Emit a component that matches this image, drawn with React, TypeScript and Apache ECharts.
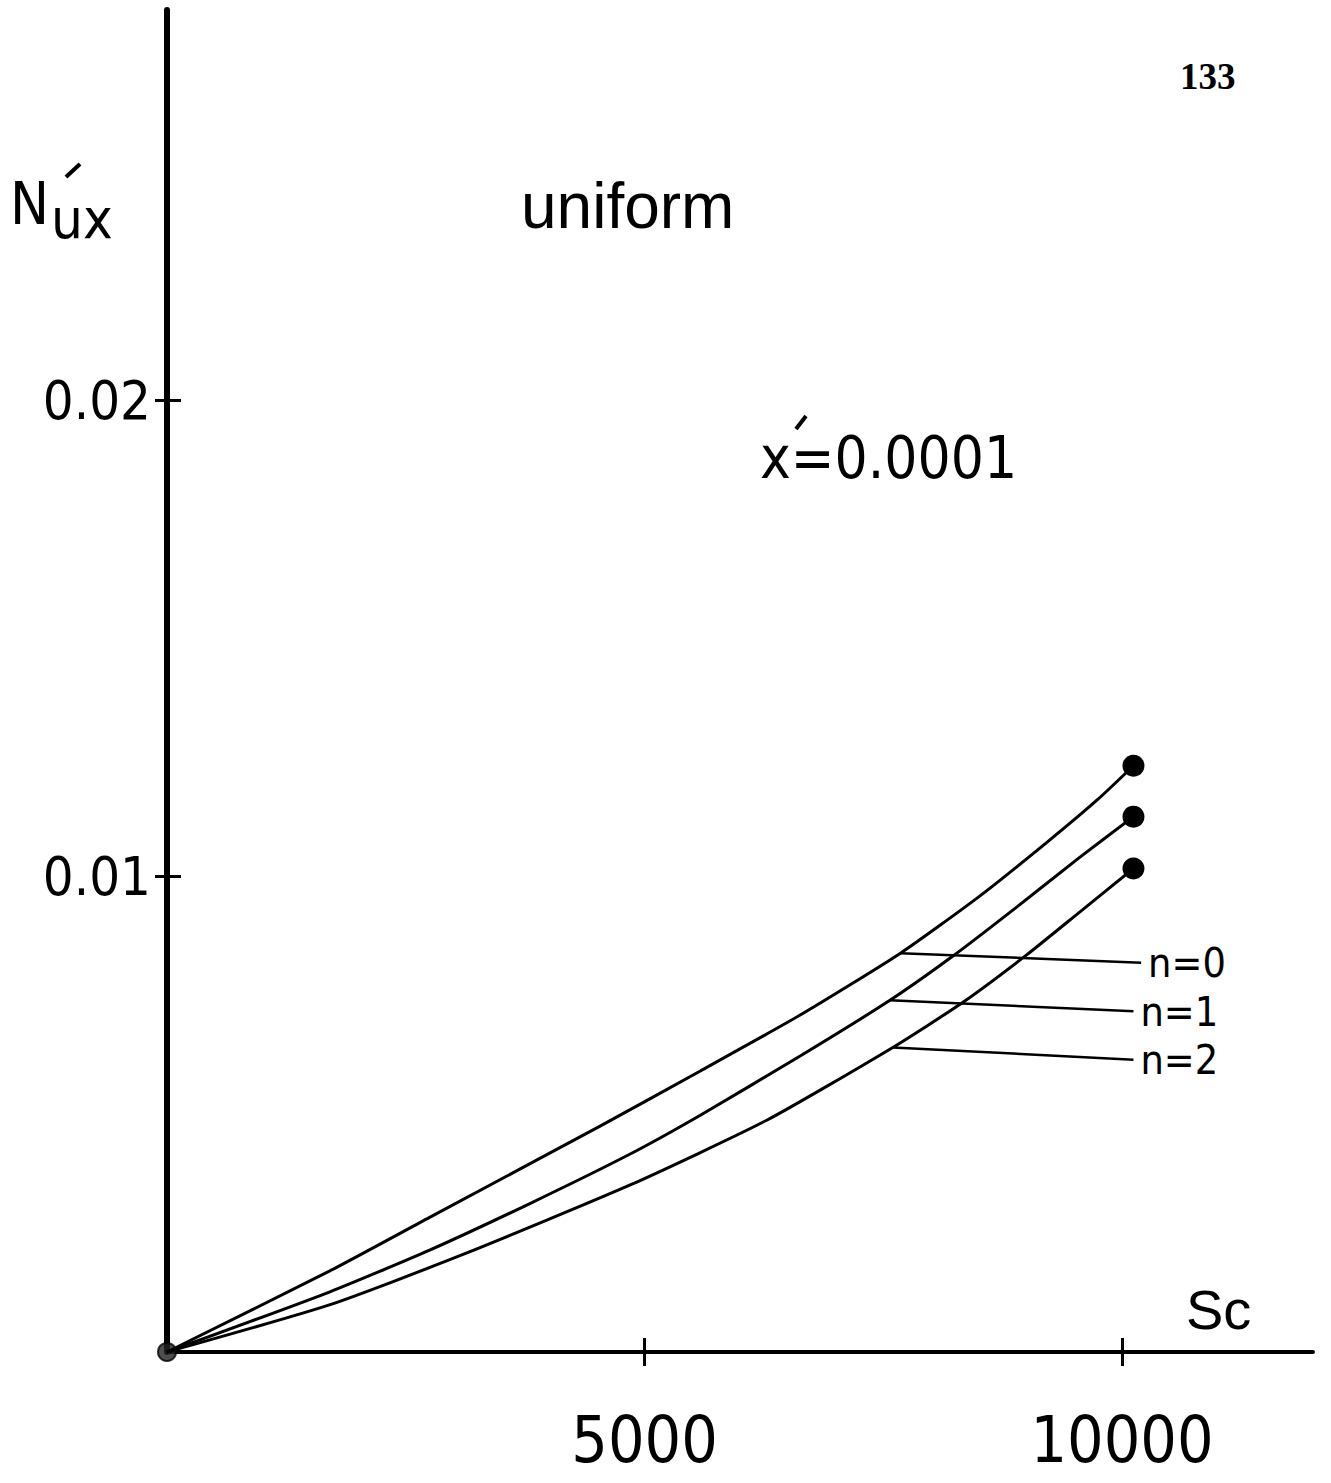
import React, { useEffect, useRef } from "react";
import * as echarts from "echarts";

// Curve readings (Sc, Nu'x) for each n
const n0Sc = [0, 1700, 2750, 4530, 5580, 6630, 7680, 8510, 9220, 9740, 10120];
const n0Nu = [0, 0.0017, 0.00283, 0.00474, 0.0059, 0.00708, 0.00838, 0.00958, 0.01072, 0.0116, 0.01232];
const n1Sc = [0, 1700, 2750, 3800, 4850, 5580, 6630, 7570, 8230, 8860, 9560, 10120];
const n1Nu = [0, 0.00126, 0.00214, 0.00312, 0.00416, 0.00497, 0.00622, 0.00739, 0.00832, 0.00929, 0.0104, 0.01125];
const n2Sc = [0, 1700, 3100, 4850, 6280, 7600, 8335, 9005, 9560, 10120];
const n2Nu = [0, 0.00099, 0.00205, 0.00351, 0.00487, 0.0064, 0.00735, 0.00835, 0.00925, 0.01016];

const seriesNames = ["n=0", "n=1", "n=2"];
const leaderStart = [
  [7680, 0.00838],
  [7570, 0.00739],
  [7600, 0.0064],
];
const leaderEnd = [
  [10200, 0.00818],
  [10120, 0.00716],
  [10120, 0.00614],
];
const xTicks = [5000, 10000];
const yTicks = [0.01, 0.02];

const COND = "'DejaVu Sans Condensed', 'Liberation Sans Narrow', 'DejaVu Sans', sans-serif";
const SANS = "'Liberation Sans', 'DejaVu Sans', sans-serif";

export default function App() {
  const ref = useRef<HTMLDivElement>(null);

  useEffect(() => {
    if (!ref.current) return;
    const chart = echarts.init(ref.current, null, { renderer: "svg" });

    const curves = [
      [n0Sc, n0Nu],
      [n1Sc, n1Nu],
      [n2Sc, n2Nu],
    ];

    const lineSeries = curves.map(([xs, ys], s) => ({
      type: "line",
      name: seriesNames[s],
      xAxisIndex: 0,
      yAxisIndex: 0,
      smooth: 0.2,
      symbol: "none",
      clip: false,
      lineStyle: { color: "#000", width: 3 },
      itemStyle: { color: "#000" },
      data: xs.map((x, i) =>
        i === xs.length - 1
          ? { value: [x, ys[i]], symbol: "circle", symbolSize: 22 }
          : [x, ys[i]]
      ),
      markLine: {
        silent: true,
        symbol: ["none", "none"],
        lineStyle: { color: "#000", width: 2.5, type: "solid" },
        label: {
          show: true,
          position: "end",
          formatter: seriesNames[s],
          fontFamily: COND,
          fontSize: 41,
          lineHeight: 40,
          color: "#000",
          distance: 7,
        },
        data: [[{ coord: leaderStart[s] }, { coord: leaderEnd[s] }]],
      },
    }));

    const baseX = {
      type: "value",
      min: 0,
      max: 12000,
      interval: 5000,
      splitLine: { show: false },
    };
    const baseY = {
      type: "value",
      min: 0,
      max: 0.0282,
      interval: 0.01,
      splitLine: { show: false },
    };

    chart.setOption({
      animation: false,
      backgroundColor: "#fff",
      grid: { left: 167, right: 18, top: 10, bottom: 131, containLabel: false },
      xAxis: [
        {
          ...baseX,
          position: "bottom",
          axisLine: { show: true, onZero: false, lineStyle: { color: "#000", width: 4 } },
          axisTick: { show: true, customValues: xTicks, length: 14, lineStyle: { color: "#000", width: 3 } },
          axisLabel: {
            customValues: xTicks,
            formatter: (v: number) => String(v),
            fontFamily: COND,
            fontSize: 64,
            color: "#000",
            margin: 56,
          },
        },
        {
          ...baseX,
          position: "bottom",
          offset: 0,
          axisLine: { show: false },
          axisTick: { show: true, inside: true, customValues: xTicks, length: 14, lineStyle: { color: "#000", width: 3 } },
          axisLabel: { show: false },
        },
      ],
      yAxis: [
        {
          ...baseY,
          position: "left",
          axisLine: { show: true, onZero: false, lineStyle: { color: "#000", width: 6 } },
          axisTick: { show: true, customValues: yTicks, length: 12, lineStyle: { color: "#000", width: 3 } },
          axisLabel: {
            customValues: yTicks,
            formatter: (v: number) => v.toFixed(2),
            fontFamily: COND,
            fontSize: 54,
            color: "#000",
            margin: 16,
          },
        },
        {
          ...baseY,
          position: "left",
          offset: 0,
          axisLine: { show: false },
          axisTick: { show: true, inside: true, customValues: yTicks, length: 14, lineStyle: { color: "#000", width: 3 } },
          axisLabel: { show: false },
        },
      ],
      series: [
        ...lineSeries,
        {
          type: "scatter",
          xAxisIndex: 0,
          yAxisIndex: 0,
          clip: false,
          symbol: "circle",
          symbolSize: 18,
          itemStyle: { color: "#222", borderColor: "#000", borderWidth: 2 },
          data: [[0, 0]],
        },
      ],
      graphic: [
        {
          type: "text",
          x: 1180,
          y: 76,
          style: { text: "133", font: "bold 37px 'Liberation Serif', serif", fill: "#000", textVerticalAlign: "middle" },
        },
        {
          type: "text",
          x: 10,
          y: 204,
          style: { text: "N", font: "58px " + COND, fill: "#000", textVerticalAlign: "middle" },
        },
        {
          type: "text",
          x: 51,
          y: 218,
          style: { text: "ux", font: "56px " + COND, fill: "#000", textVerticalAlign: "middle" },
        },
        {
          type: "line",
          shape: { x1: 66, y1: 177, x2: 80, y2: 164 },
          style: { stroke: "#000", lineWidth: 4 },
        },
        {
          type: "text",
          x: 521,
          y: 206,
          style: { text: "uniform", font: "64px " + SANS, fill: "#000", textVerticalAlign: "middle" },
        },
        {
          type: "text",
          x: 760,
          y: 458,
          style: { text: "x=0.0001", font: "58px " + COND, fill: "#000", textVerticalAlign: "middle" },
        },
        {
          type: "line",
          shape: { x1: 796, y1: 429, x2: 806, y2: 416 },
          style: { stroke: "#000", lineWidth: 4 },
        },
        {
          type: "text",
          x: 1186,
          y: 1309,
          style: { text: "Sc", font: "56px " + SANS, fill: "#000", textVerticalAlign: "middle" },
        },
      ],
    });

    return () => chart.dispose();
  }, []);

  return (
    <div
      ref={ref}
      style={{ position: "fixed", left: 0, top: 0, width: 1331, height: 1483, background: "#fff" }}
    />
  );
}
